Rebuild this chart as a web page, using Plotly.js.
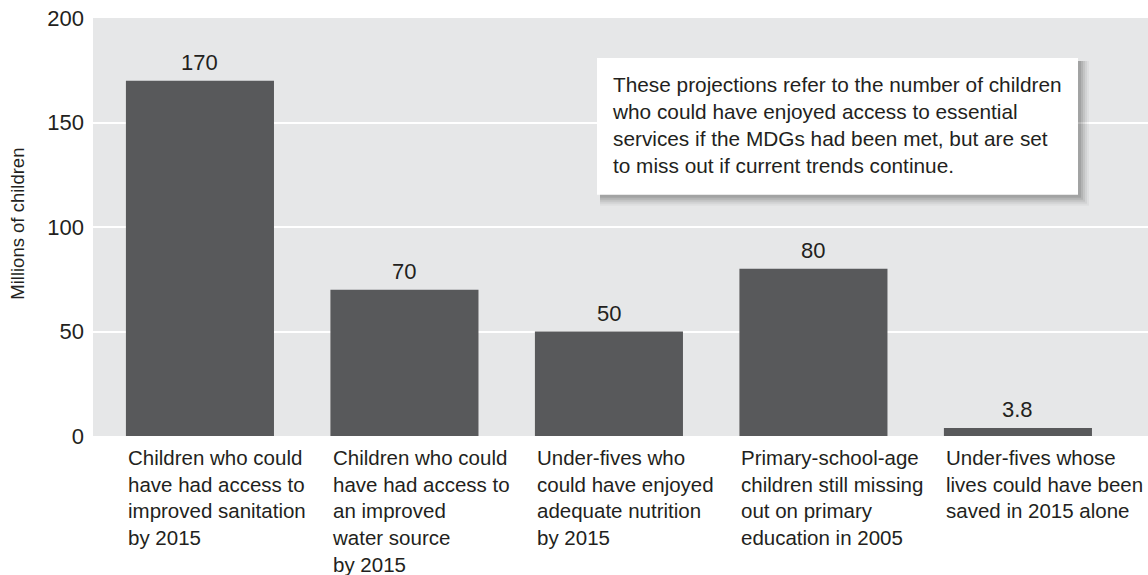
<!DOCTYPE html>
<html>
<head>
<meta charset="utf-8">
<script src="https://cdn.plot.ly/plotly-3.0.1.min.js"></script>
<style>html,body{margin:0;padding:0;background:#fff;}#chart{width:1148px;height:575px;}</style>
</head>
<body>
<div id="chart"></div>
<script>
// ---- data ----
const categories = [
  "Children who could<br>have had access to<br>improved sanitation<br>by 2015",
  "Children who could<br>have had access to<br>an improved<br>water source<br>by 2015",
  "Under-fives who<br>could have enjoyed<br>adequate nutrition<br>by 2015",
  "Primary-school-age<br>children still missing<br>out on primary<br>education in 2005",
  "Under-fives whose<br>lives could have been<br>saved in 2015 alone"
];
const values = [170, 70, 50, 80, 3.8];
const valueLabels = ["170", "70", "50", "80", "3.8"];
const yTicks = [0, 50, 100, 150, 200];
const yTitle = "Millions of children";
const noteText = "These projections refer to the number of children<br>who could have enjoyed access to essential<br>services if the MDGs had been met, but are set<br>to miss out if current trends continue.";

// ---- layout constants ----
const W = 1148, H = 575;
const ML = 93, MR = 0, MT = 18, MB = 138.5;
const PW = W - ML - MR, PH = H - MT - MB;
const barWidth = 0.724;
const TXT = "#231f20";
const FONT = "Liberation Sans, Arial, sans-serif";
const px2x = p => (p - ML) / PW;
const py2y = p => (H - MB - p) / PH;

const xs = categories.map((_, i) => i);

const trace = {
  type: "bar",
  x: xs,
  y: values,
  width: barWidth,
  marker: {color: "#58595b", line: {width: 0}},
  hoverinfo: "skip"
};

const annotations = [];
// category labels (left aligned under each bar)
categories.forEach((c, i) => {
  annotations.push({
    x: i - barWidth / 2, xref: "x", xanchor: "left",
    y: 0, yref: "paper", yanchor: "top", yshift: -8,
    text: c, align: "left", showarrow: false,
    font: {family: FONT, size: 20.5, color: TXT}
  });
});
// value labels
values.forEach((v, i) => {
  annotations.push({
    x: i, xref: "x", y: v, yref: "y", yanchor: "bottom", yshift: 4,
    text: valueLabels[i], showarrow: false,
    font: {family: FONT, size: 22, color: TXT}
  });
});
// y axis title
annotations.push({
  x: px2x(18), xref: "paper", xanchor: "center",
  y: py2y(224), yref: "paper", yanchor: "middle",
  text: yTitle, textangle: -90, showarrow: false,
  font: {family: FONT, size: 18.5, color: TXT}
});
// note box text
annotations.push({
  x: px2x(610), xref: "paper", xanchor: "left",
  y: py2y(71), yref: "paper", yanchor: "top",
  text: noteText, align: "left", showarrow: false,
  font: {family: FONT, size: 20.8, color: TXT}
});

// note box with soft shadow
const box = {x0: 597, x1: 1078, y0: 58, y1: 195};
const shapes = [];
const shadowSteps = [
  {d: 11, o: 0.035}, {d: 9, o: 0.05}, {d: 7, o: 0.065}, {d: 5, o: 0.08}, {d: 3, o: 0.09}
];
shadowSteps.forEach(s => {
  shapes.push({
    type: "rect", xref: "paper", yref: "paper", layer: "above",
    x0: px2x(box.x0 + 3), x1: px2x(box.x1 + s.d),
    y0: py2y(box.y1 + s.d), y1: py2y(box.y0 + 3),
    fillcolor: "rgba(0,0,0," + s.o + ")", line: {width: 0}
  });
});
shapes.push({
  type: "rect", xref: "paper", yref: "paper", layer: "above",
  x0: px2x(box.x0), x1: px2x(box.x1), y0: py2y(box.y1), y1: py2y(box.y0),
  fillcolor: "#ffffff", line: {width: 0}
});

const layout = {
  width: W, height: H,
  margin: {l: ML, r: MR, t: MT, b: MB, pad: 0},
  paper_bgcolor: "#ffffff",
  plot_bgcolor: "#e6e7e8",
  showlegend: false,
  font: {family: FONT, color: TXT},
  xaxis: {
    range: [-0.523, 4.636], showgrid: false, zeroline: false,
    showticklabels: false, ticks: "", showline: false, fixedrange: true
  },
  yaxis: {
    range: [0, 200], tickvals: yTicks, ticktext: yTicks.map(String),
    showgrid: true, gridcolor: "#ffffff", gridwidth: 2,
    zeroline: false, showline: false, ticks: "",
    ticklabelstandoff: 8,
    tickfont: {family: FONT, size: 22, color: TXT},
    automargin: false, fixedrange: true
  },
  annotations: annotations,
  shapes: shapes
};

Plotly.newPlot("chart", [trace], layout, {displayModeBar: false, staticPlot: true});
</script>
</body>
</html>
